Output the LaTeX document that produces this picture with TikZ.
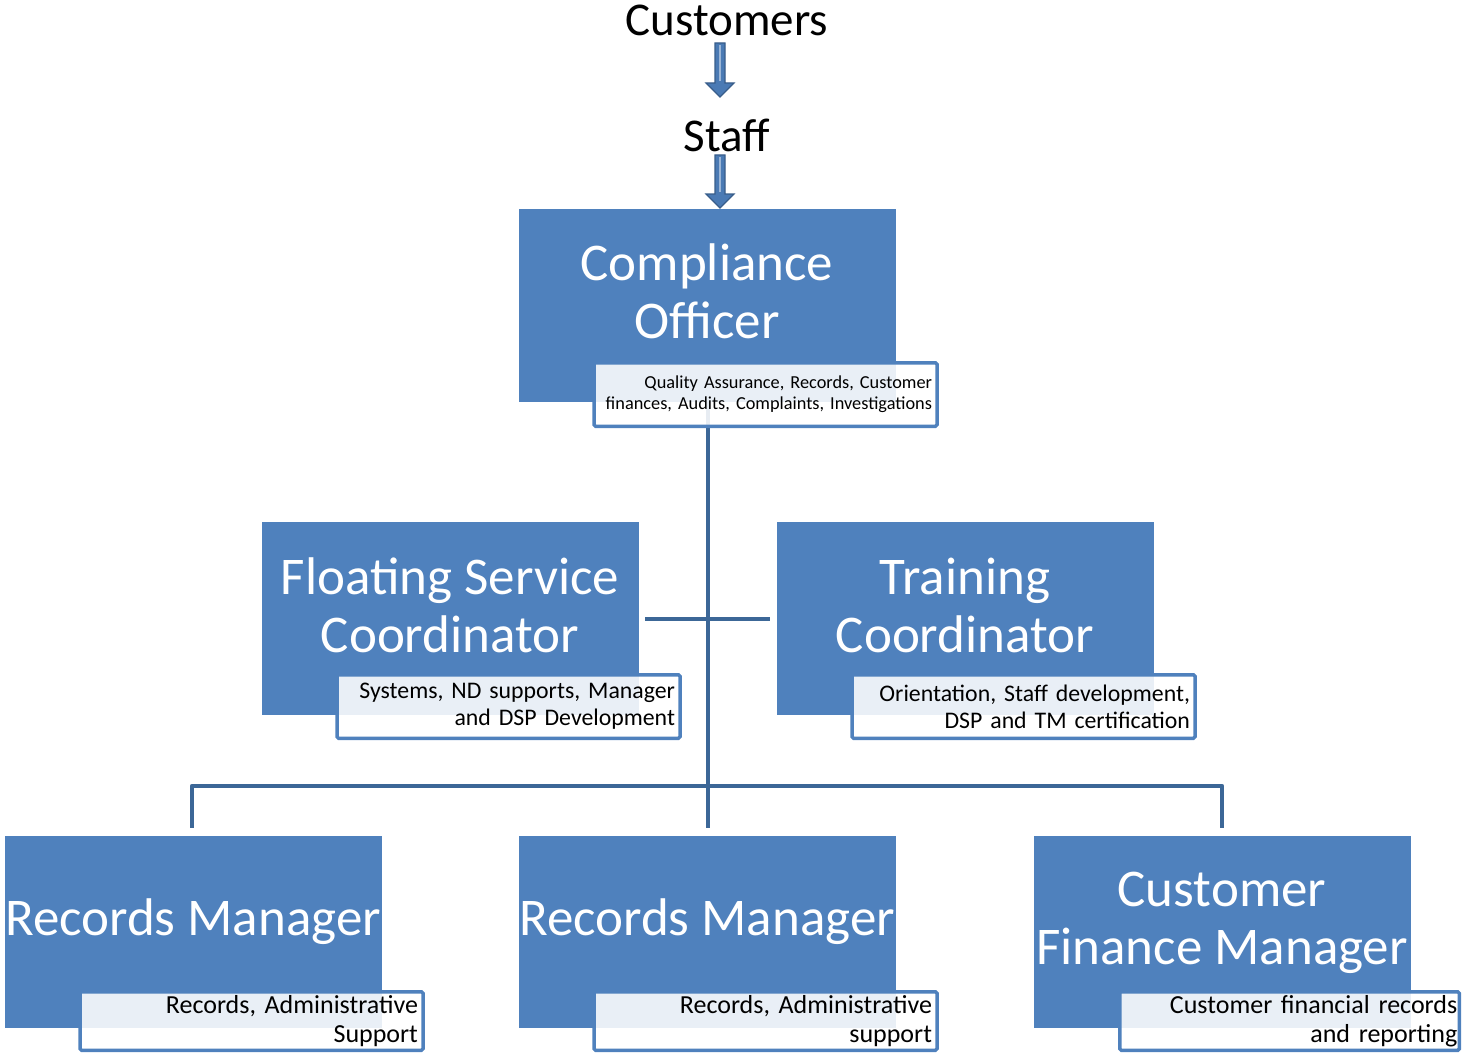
\documentclass[tikz,border=0pt]{standalone}
\usepackage{fontspec}
\setmainfont{Carlito}
\definecolor{boxblue}{HTML}{4F81BD}
\definecolor{connblue}{HTML}{3C6797}
\definecolor{arrowfill}{HTML}{4A7AB4}
\definecolor{arrowdraw}{HTML}{385D8A}
\begin{document}
\begin{tikzpicture}[x=1pt,y=-1pt,
  box/.style={fill=boxblue, minimum width=377pt, minimum height=193pt, inner sep=0pt},
  title/.style={text=white, font=\fontsize{53}{58}\selectfont, align=center, inner sep=0pt},
  sub/.style={draw=boxblue, line width=3.5pt, fill=white, fill opacity=0.88, text opacity=1,
    rounded corners=1.5pt, minimum height=63.5pt, text width=333pt, align=right,
    inner xsep=5pt, inner ysep=0pt, font=\fontsize{23.8}{27}\selectfont},
  subbig/.style={sub, minimum height=58.5pt, font=\fontsize{26}{29}\selectfont},
  conn/.style={draw=connblue, line width=4pt, line join=round},
  toptext/.style={font=\fontsize{47}{50}\selectfont, inner sep=0pt, anchor=base},
  pics/barrow/.style={code={
    \draw[fill=arrowfill, draw=arrowdraw, line width=1.2pt, line join=miter]
      (-5,0) -- (-5,#1) -- (-14,#1) -- (0,#1+14) -- (14,#1) -- (5,#1) -- (5,0) -- cycle;
    \draw[arrowfill!55!white, line width=1.5pt] (0,2) -- (0,#1-2);}}]
\useasboundingbox (0,0) rectangle (1462,1054);

% top texts and arrows
\node[toptext] (cust) at (727,36) {Customers};
\node[toptext] (staff) at (727,152) {Staff};
\pic at (720,43) {barrow=40};
\pic at (720,155) {barrow=39};

% main boxes
\node[box] (C)  at (707.5,305.5) {};
\node[box] (F)  at (450.5,618.5) {};
\node[box] (T)  at (965.5,618.5) {};
\node[box, minimum height=192pt] (R1) at (193.5,932) {};
\node[box, minimum height=192pt] (R2) at (707.5,932) {};
\node[box, minimum height=192pt] (CF) at (1222.5,932) {};

% connectors
\draw[conn] ([xshift=0.5pt]C.south) -- ([xshift=0.5pt,yshift=8pt]R2.north);
\draw[conn] ([xshift=6pt]F.east) -- ([xshift=-7pt]T.west);
\draw[conn] ([xshift=-1.5pt,yshift=8pt]R1.north) -- ([xshift=-1.5pt,yshift=50pt]R1.north)
  -| ([xshift=-0.5pt,yshift=8pt]CF.north);

% sub boxes
\node[sub, font=\fontsize{18.3}{21}\selectfont] (Cs) at (765.5,394.5)
  {Quality Assurance, Records, Customer\\finances, Audits, Complaints, Investigations};
\node[sub] (Fs) at (508.5,706.5) {Systems, ND supports, Manager\\and DSP Development};
\node[sub] (Ts) at (1023.5,706.5) {Orientation, Staff development,\\DSP and TM certification};
\node[subbig] (R1s) at (251.5,1021) {Records, Administrative\\Support};
\node[subbig] (R2s) at (765.5,1021) {Records, Administrative\\support};
\node[subbig, text width=335.5pt, inner xsep=2pt] (CFs) at (1289.5,1021)
  {Customer financial records\\and reporting};

% titles
\node[title] (Ct)  at (707,291) {Compliance\\Officer};
\node[title] (Ft)  at (450,605) {Floating Service\\Coordinator};
\node[title] (Tt)  at (965,605) {Training\\Coordinator};
\node[title] (R1t) at (193,922) {Records Manager};
\node[title] (R2t) at (707,922) {Records Manager};
\node[title] (CFt) at (1222,923) {Customer\\Finance Manager};
\end{tikzpicture}
\end{document}
